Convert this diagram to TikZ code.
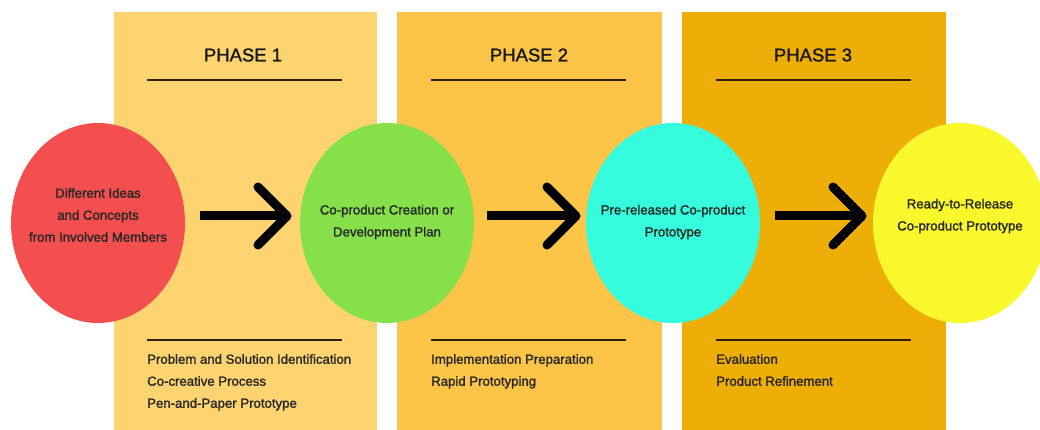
\documentclass[tikz,border=0pt]{standalone}
\usepackage{fontspec}
\setmainfont{Liberation Sans}[FakeBold=1.4]
\usetikzlibrary{shapes.geometric}
\begin{document}
\begin{tikzpicture}[x=1pt,y=-1pt,
  sep/.style={draw=black!75!brown, line width=1.1pt},
  ttl/.style={font=\fontsize{18.5}{22}\selectfont, text=black!90},
  bub/.style={ellipse, draw=none, minimum width=174pt, minimum height=200pt, inner sep=0pt},
  btxt/.style={align=center, font=\fontsize{13.2}{22}\selectfont, text=black!85},
  ltxt/.style={align=left, anchor=north west, font=\fontsize{13.2}{22}\selectfont, text=black!85, inner sep=0pt},
  chev/.style={line width=9pt, line cap=round, line join=round}
]
\useasboundingbox (0,0) rectangle (1040,430);
\definecolor{pone}{HTML}{FDD470}
\definecolor{ptwo}{HTML}{FCC548}
\definecolor{pthree}{HTML}{EEAE08}
\definecolor{cred}{HTML}{F34F4F}
\definecolor{cgreen}{HTML}{86E04A}
\definecolor{ccyan}{HTML}{35FCDC}
\definecolor{cyel}{HTML}{F8F82C}
% panels
\fill[pone] (114,12) rectangle (377,430);
\fill[ptwo] (397,12) rectangle (662,430);
\fill[pthree] (682,12) rectangle (946,430);
% titles
\node[ttl] (t1) at (243,55) {PHASE 1};
\node[ttl] (t2) at (529,55) {PHASE 2};
\node[ttl] (t3) at (813,55) {PHASE 3};
\draw[sep] (147,80) -- (342,80);
\draw[sep] (431,80) -- (626,80);
\draw[sep] (716,80) -- (911,80);
\draw[sep] (147,340) -- (342,340);
\draw[sep] (431,340) -- (626,340);
\draw[sep] (716,340) -- (911,340);
% bubbles
\node[bub, fill=cred] (a) at (98,223) {};
\node[bub, fill=cgreen] (b) at (387,223) {};
\node[bub, fill=ccyan] (c) at (673,223) {};
\node[bub, fill=cyel] (d) at (960,223) {};
\node[btxt] at (98,215) {Different Ideas\\and Concepts\\from Involved Members};
\node[btxt] at (387,222) {Co-product Creation or\\Development Plan};
\node[btxt] at (673,222) {Pre-released Co-product\\Prototype};
\node[btxt] at (960,216) {Ready-to-Release\\Co-product Prototype};
% arrows
\coordinate (s1) at (200,216); \coordinate (e1) at (287,216);
\coordinate (s2) at (487,216); \coordinate (e2) at (576,216);
\coordinate (s3) at (775,216); \coordinate (e3) at (862,216);
\draw[chev, line cap=butt] (s1) -- (e1);
\draw[chev] ([xshift=-29pt,yshift=-29pt]e1) -- (e1) -- ([xshift=-29pt,yshift=29pt]e1);
\draw[chev, line cap=butt] (s2) -- (e2);
\draw[chev] ([xshift=-29pt,yshift=-29pt]e2) -- (e2) -- ([xshift=-29pt,yshift=29pt]e2);
\draw[chev, line cap=butt] (s3) -- (e3);
\draw[chev] ([xshift=-29pt,yshift=-29pt]e3) -- (e3) -- ([xshift=-29pt,yshift=29pt]e3);
% lists
\node[ltxt] (l1) at (147,354) {Problem and Solution Identification\\Co-creative Process\\Pen-and-Paper Prototype};
\node[ltxt] (l2) at (431,354) {Implementation Preparation\\Rapid Prototyping};
\node[ltxt] (l3) at (716,354) {Evaluation\\Product Refinement};
\end{tikzpicture}
\end{document}
